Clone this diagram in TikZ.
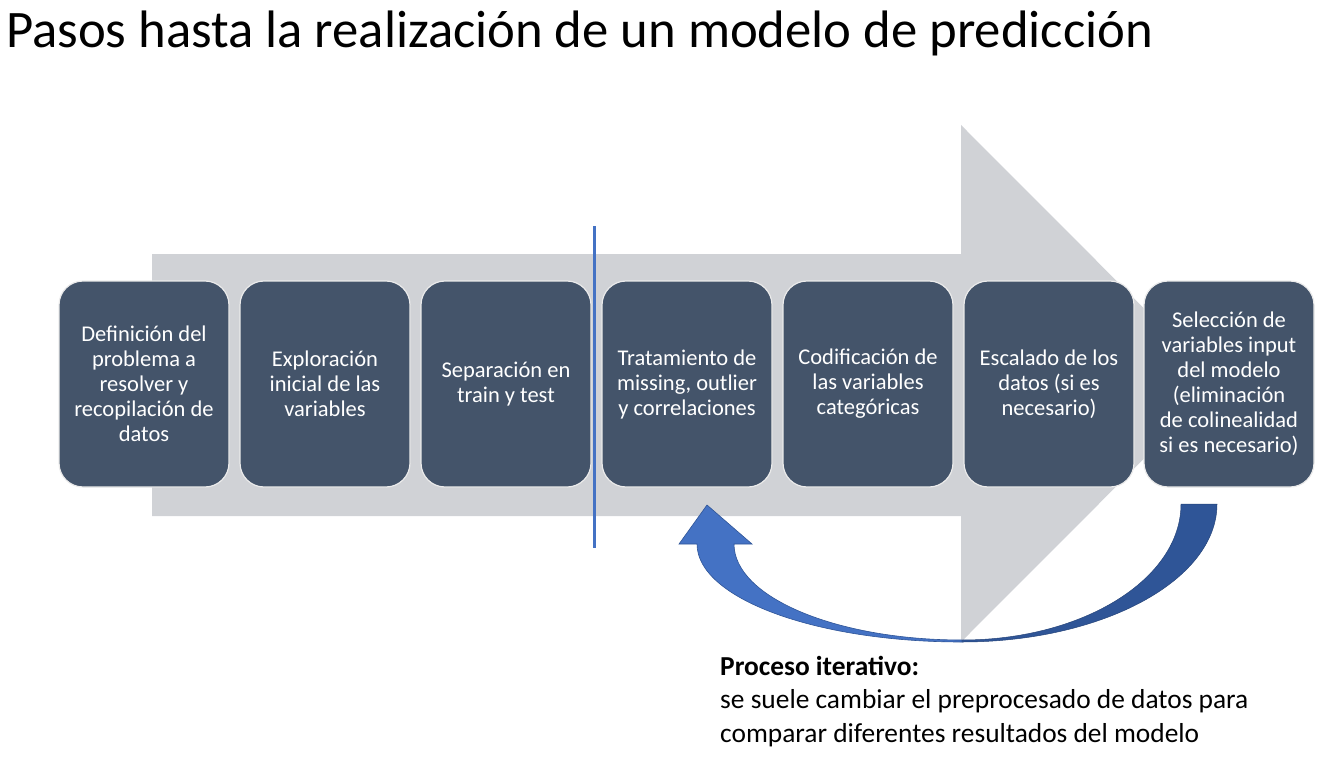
\documentclass[tikz,border=0pt]{standalone}
\usepackage{fontspec}
\setmainfont{Carlito}
\definecolor{arrowgray}{RGB}{208,210,214}
\definecolor{boxfill}{RGB}{68,84,106}
\definecolor{lineblue}{RGB}{68,114,196}
\definecolor{darkblue}{RGB}{47,85,151}
\begin{document}
\begin{tikzpicture}[x=1pt,y=-1pt,
  stepbox/.style={draw=white!92!black, line width=1.2pt, fill=boxfill, rounded corners=24pt,
    minimum width=170pt, minimum height=206pt, text=white, align=center,
    font=\fontsize{22.5}{25}\selectfont, inner sep=2pt},
  lbl/.style={anchor=base west, align=left, inner sep=0pt}]
\useasboundingbox (0,0) rectangle (1328,757);
% title
\node[anchor=base west, inner sep=0pt, font=\fontsize{52.7}{60}\selectfont] (title) at (6,48) {Pasos hasta la realización de un modelo de predicción};
% big gray arrow
\fill[arrowgray] (152,254) -- (961,254) -- (961,125) -- (1219,383.5) -- (961,642) -- (961,516) -- (152,516) -- cycle;
% boxes
\node[stepbox] (b1) at (144,384) {Definición del\\problema a\\resolver y\\recopilación de\\datos};
\node[stepbox] (b2) at (325,384) {Exploración\\inicial de las\\variables};
\node[stepbox] (b3) at (506,384) {Separación en\\train y test};
\node[stepbox] (b4) at (687,384) {Tratamiento de\\missing, outlier\\y correlaciones};
\node[stepbox] (b5) at (868,384) {Codificación de\\las variables\\categóricas};
\node[stepbox] (b6) at (1049,384) {Escalado de los\\datos (si es\\necesario)};
\node[stepbox] (b7) at (1229,384) {Selección de\\variables input\\del modelo\\(eliminación\\de colinealidad\\si es necesario)};
% split line
\coordinate (ltop) at (594,226);
\coordinate (lbot) at (594,548);
\draw[lineblue, line width=3pt] (ltop) -- (lbot);
% curved iterative arrow
\fill[darkblue, draw=darkblue!80!black, line width=0.5pt]
  (1181,504) -- (1217,504)
  .. controls (1217,580) and (1103,642) .. (962,642)
  -- (962,640)
  .. controls (1083,640) and (1181,579) .. (1181,504) -- cycle;
\fill[lineblue, draw=darkblue, line width=0.6pt]
  (697,544) -- (679,544) -- (707,505) -- (752,544) -- (734,544)
  .. controls (734,597) and (836,640) .. (962,640)
  -- (962,642)
  .. controls (815,642) and (697,598) .. (697,544) -- cycle;
% caption
\node[lbl, font=\fontsize{27.4}{33.5}\selectfont] (cap) at (720,742) {\textbf{Proceso iterativo:}\\se suele cambiar el preprocesado de datos para\\comparar diferentes resultados del modelo};
\end{tikzpicture}
\end{document}
